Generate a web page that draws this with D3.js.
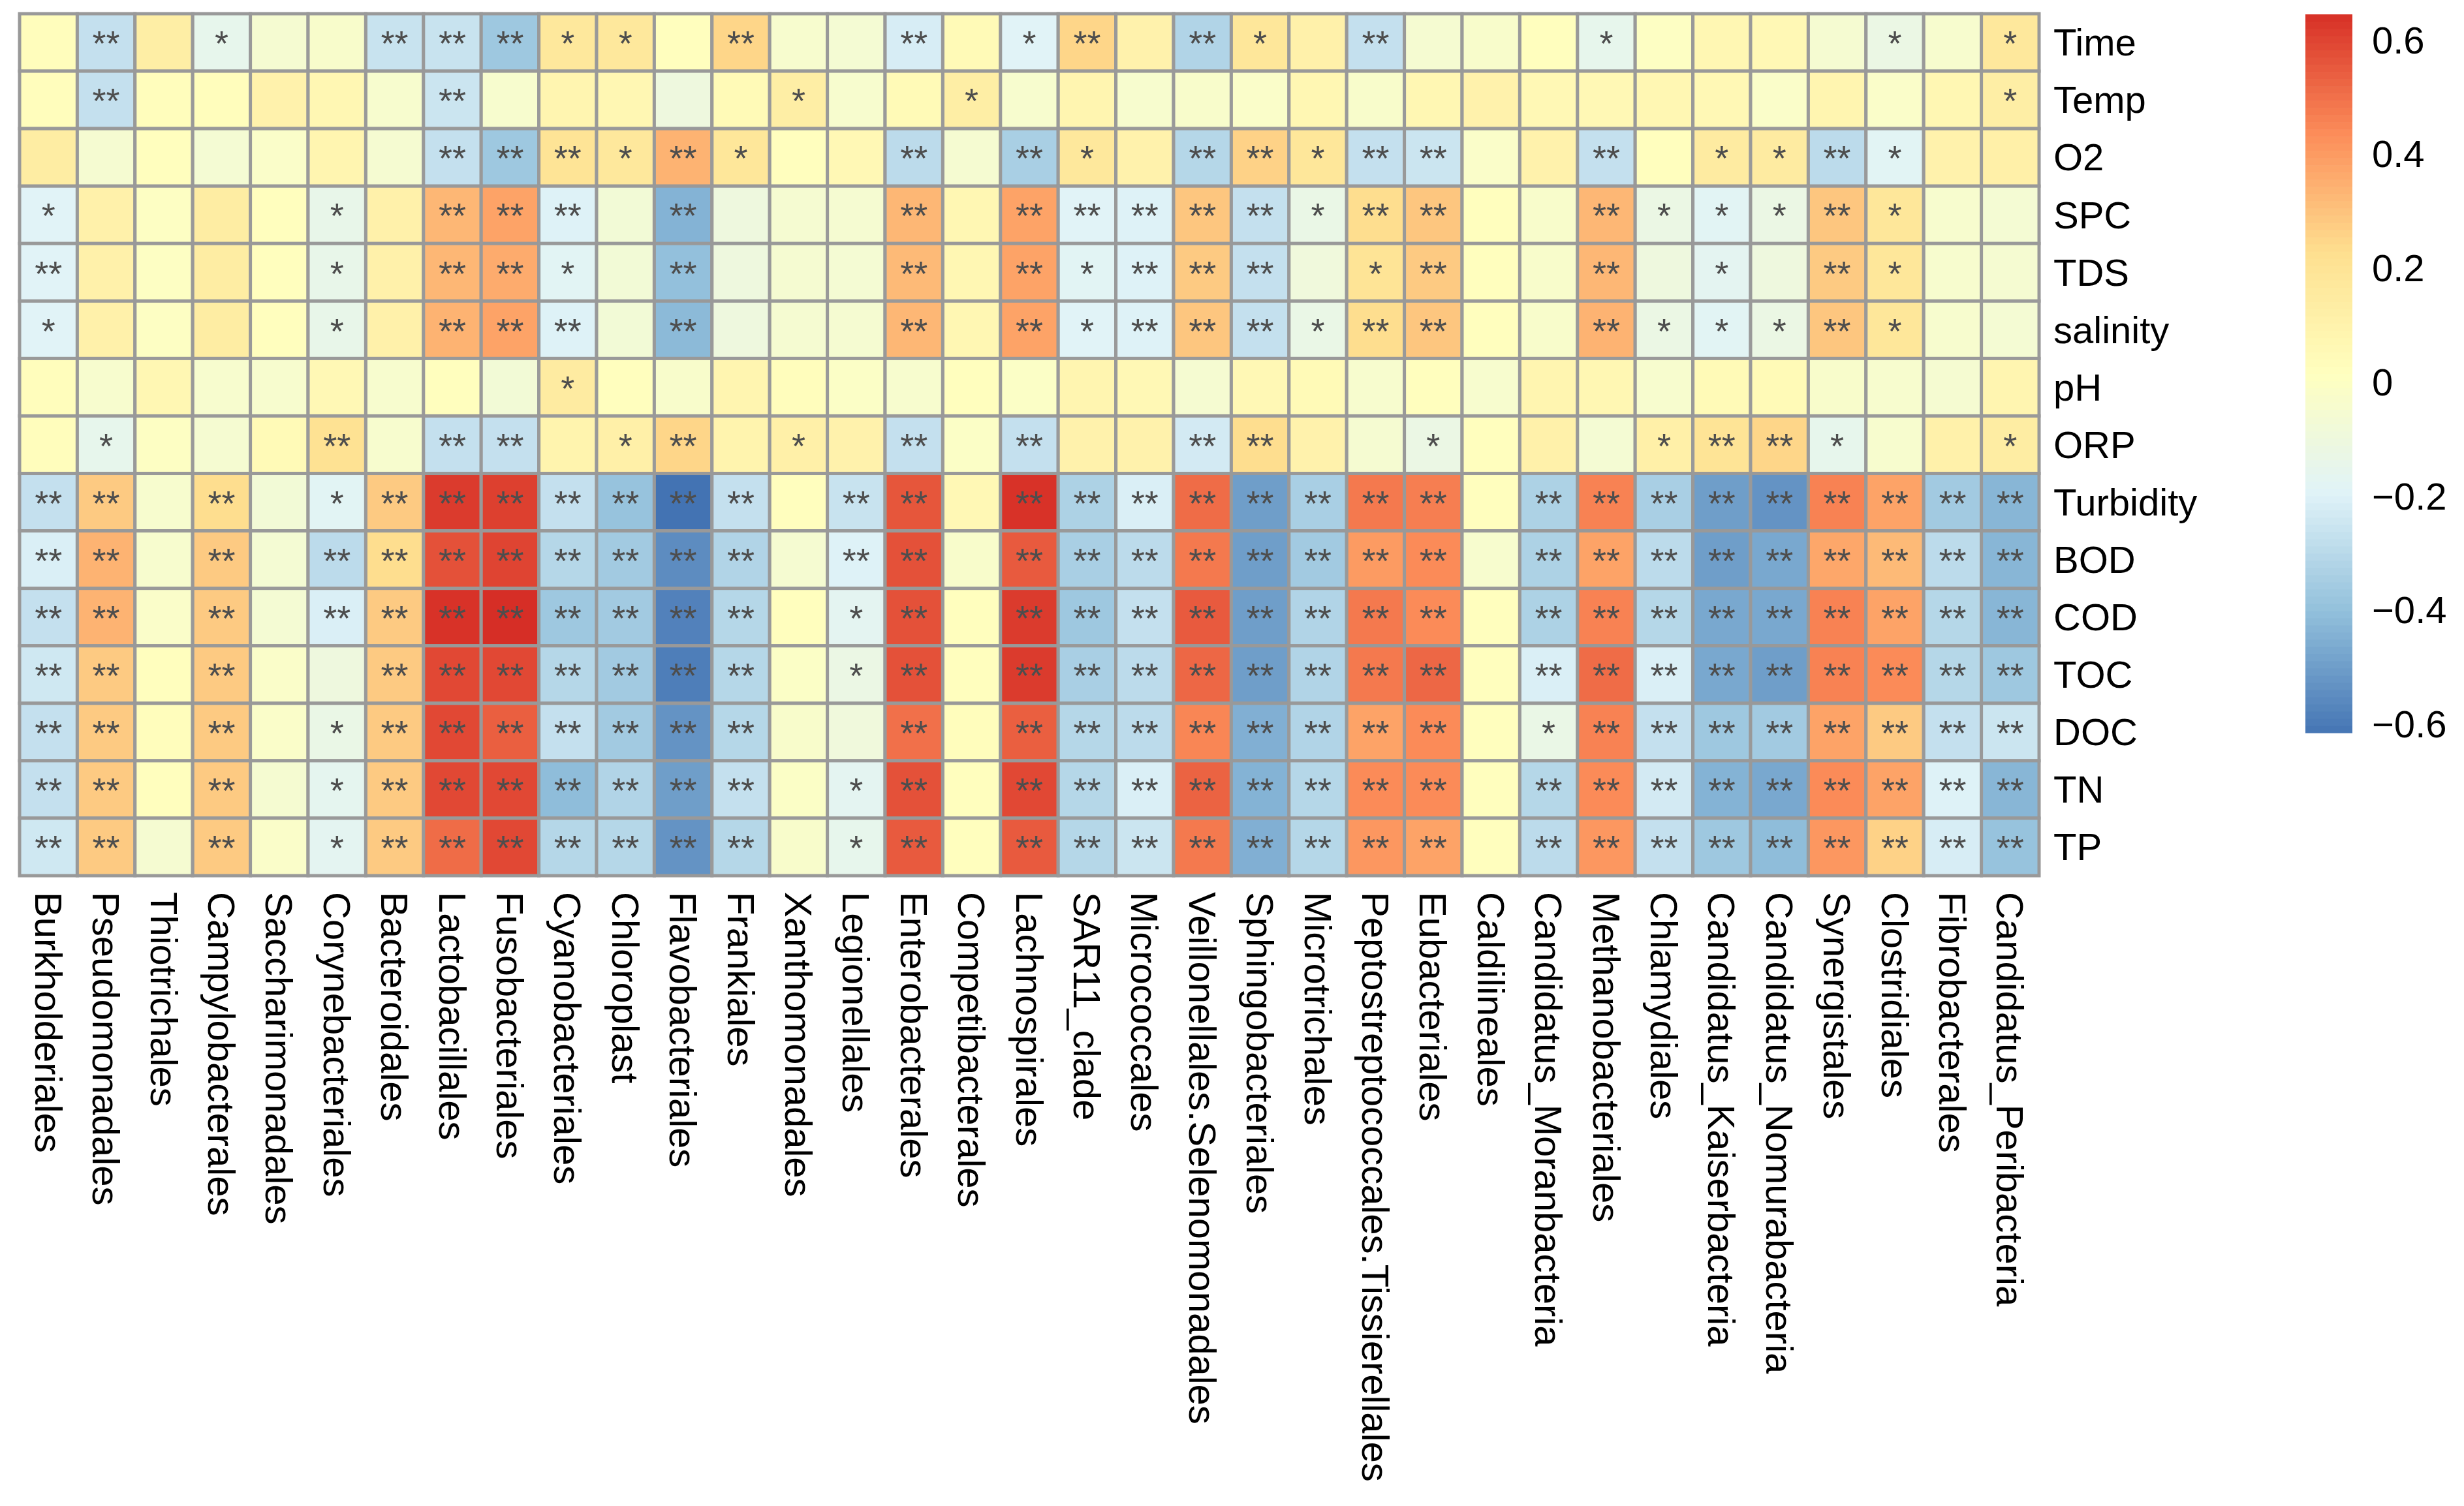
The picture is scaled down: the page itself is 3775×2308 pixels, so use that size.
<!DOCTYPE html>
<html>
<head>
<meta charset="utf-8">
<script src="https://cdn.jsdelivr.net/npm/d3@7"></script>
<style>
body { margin: 0; background: #fff; }
text { font-family: "Liberation Sans", Arial, Helvetica, sans-serif; }
</style>
</head>
<body>
<div class="chart"></div>
<script>
var orders = ["Burkholderiales", "Pseudomonadales", "Thiotrichales", "Campylobacterales", "Saccharimonadales",
	"Corynebacteriales", "Bacteroidales", "Lactobacillales", "Fusobacteriales", "Cyanobacteriales", "Chloroplast",
	"Flavobacteriales", "Frankiales", "Xanthomonadales", "Legionellales", "Enterobacterales", "Competibacterales",
	"Lachnospirales", "SAR11_clade", "Micrococcales", "Veillonellales.Selenomonadales", "Sphingobacteriales",
	"Microtrichales", "Peptostreptococcales.Tissierellales", "Eubacteriales", "Caldilineales",
	"Candidatus_Moranbacteria", "Methanobacteriales", "Chlamydiales", "Candidatus_Kaiserbacteria",
	"Candidatus_Nomurabacteria", "Synergistales", "Clostridiales", "Fibrobacterales", "Candidatus_Peribacteria"];

var params = ["Time", "Temp", "O2", "SPC", "TDS", "salinity", "pH", "ORP", "Turbidity", "BOD", "COD", "TOC", "DOC", "TN", "TP"];

// correlation of each parameter with each order (columns in the order above)
var corTime = [0.03,-0.27,0.13,-0.15,-0.05,-0.03,-0.26,-0.26,-0.37, 0.17,0.17,0.02,0.25,-0.04,-0.06,-0.22,0.05,-0.19, 0.25,0.10,-0.32,0.18,0.11,-0.27,-0.05,-0.03,0.02, -0.15,0.00,0.07,0.06,-0.05,-0.12,-0.04,0.17];
var corTemp = [0.03,-0.27,0.03,0.03,0.10,0.07,-0.04,-0.25,-0.04, 0.08,0.07,-0.10,0.05,0.13,-0.04,0.05,0.13,-0.04, 0.08,-0.04,-0.03,-0.02,0.07,-0.03,0.07,0.10,0.06, 0.06,0.07,0.06,-0.02,0.08,-0.02,0.07,0.13];
var corO2 = [0.14,-0.05,0.02,-0.06,-0.02,0.08,-0.05,-0.27,-0.37, 0.20,0.17,0.34,0.18,0.02,0.06,-0.29,-0.05,-0.34, 0.17,0.10,-0.31,0.26,0.18,-0.27,-0.25,-0.02,0.10, -0.27,0.02,0.15,0.15,-0.29,-0.18,0.10,0.12];
var corSPC = [-0.19,0.11,0.00,0.14,0.02,-0.14,0.11,0.33,0.38, -0.20,-0.07,-0.44,-0.10,-0.05,-0.05,0.33,0.07,0.38, -0.19,-0.20,0.29,-0.27,-0.13,0.23,0.29,0.02,-0.03, 0.33,-0.12,-0.18,-0.12,0.29,0.18,-0.04,-0.06];
var corTDS = [-0.19,0.11,0.00,0.14,0.02,-0.14,0.11,0.33,0.36, -0.18,-0.07,-0.40,-0.10,-0.05,-0.06,0.32,0.07,0.38, -0.18,-0.20,0.28,-0.27,-0.09,0.20,0.28,0.02,-0.03, 0.33,-0.10,-0.17,-0.10,0.28,0.18,-0.04,-0.05];
var corSalinity = [-0.19,0.11,0.00,0.14,0.02,-0.14,0.11,0.34,0.38, -0.20,-0.07,-0.42,-0.10,-0.05,-0.05,0.33,0.07,0.38, -0.19,-0.20,0.29,-0.27,-0.13,0.23,0.29,0.02,-0.03, 0.34,-0.12,-0.18,-0.12,0.29,0.18,-0.04,-0.06];
var corPH = [0.03,-0.04,0.07,-0.04,-0.04,0.06,-0.04,0.02,-0.07, 0.15,0.02,-0.03,0.08,0.03,-0.01,-0.04,0.02,-0.01, 0.08,0.06,-0.05,0.06,0.05,-0.04,0.02,-0.04,0.08, 0.07,-0.04,0.05,0.05,-0.03,-0.04,-0.05,0.08];
var corORP = [0.03,-0.15,0.00,-0.05,0.05,0.21,-0.04,-0.27,-0.27, 0.09,0.12,0.25,0.09,0.12,0.10,-0.27,-0.01,-0.27, 0.10,0.10,-0.23,0.23,0.10,-0.05,-0.12,0.02,0.11, -0.06,0.12,0.20,0.25,-0.15,-0.04,0.11,0.14];
var corTurbidity = [-0.27,0.28,-0.04,0.23,-0.07,-0.18,0.28,0.62,0.61, -0.27,-0.39,-0.62,-0.27,0.02,-0.26,0.56,0.06,0.64, -0.33,-0.21,0.51,-0.50,-0.34,0.48,0.47,0.02,-0.33, 0.46,-0.34,-0.50,-0.53,0.46,0.38,-0.36,-0.43];
var corBOD = [-0.21,0.34,-0.04,0.28,-0.06,-0.29,0.23,0.57,0.60, -0.31,-0.36,-0.55,-0.32,-0.05,-0.20,0.57,-0.03,0.55, -0.34,-0.29,0.48,-0.50,-0.36,0.40,0.44,-0.04,-0.33, 0.38,-0.29,-0.50,-0.47,0.37,0.32,-0.29,-0.43];
var corCOD = [-0.27,0.34,-0.02,0.28,-0.06,-0.21,0.28,0.64,0.65, -0.37,-0.36,-0.58,-0.31,0.02,-0.17,0.57,0.02,0.62, -0.37,-0.27,0.55,-0.50,-0.32,0.48,0.44,0.02,-0.33, 0.46,-0.31,-0.47,-0.47,0.46,0.38,-0.31,-0.43];
var corTOC = [-0.24,0.28,0.02,0.28,-0.02,-0.10,0.28,0.59,0.59, -0.31,-0.36,-0.59,-0.31,-0.01,-0.12,0.57,0.02,0.62, -0.34,-0.29,0.52,-0.50,-0.32,0.48,0.52,0.02,-0.21, 0.51,-0.21,-0.47,-0.50,0.46,0.44,-0.31,-0.37];
var corDOC = [-0.27,0.28,0.03,0.28,-0.02,-0.13,0.28,0.59,0.54, -0.27,-0.36,-0.53,-0.31,-0.03,-0.09,0.50,0.03,0.54, -0.31,-0.29,0.45,-0.45,-0.32,0.38,0.44,0.02,-0.13, 0.46,-0.27,-0.37,-0.36,0.38,0.28,-0.27,-0.25];
var corTN = [-0.27,0.28,0.02,0.28,-0.05,-0.16,0.28,0.59,0.59, -0.41,-0.32,-0.50,-0.27,-0.01,-0.17,0.57,0.02,0.59, -0.31,-0.21,0.53,-0.44,-0.31,0.44,0.44,0.02,-0.31, 0.44,-0.23,-0.44,-0.47,0.44,0.38,-0.20,-0.43];
var corTP = [-0.24,0.28,-0.05,0.28,-0.02,-0.17,0.28,0.51,0.59, -0.31,-0.31,-0.53,-0.31,-0.03,-0.15,0.55,0.02,0.55, -0.31,-0.25,0.48,-0.45,-0.31,0.41,0.38,0.02,-0.29, 0.41,-0.27,-0.37,-0.41,0.41,0.26,-0.22,-0.39];

// significance: 0 none, 1 = *, 2 = **
var sigTime = [0,2,0,1,0,0,2,2,2, 1,1,0,2,0,0,2,0,1, 2,0,2,1,0,2,0,0,0, 1,0,0,0,0,1,0,1];
var sigTemp = [0,2,0,0,0,0,0,2,0, 0,0,0,0,1,0,0,1,0, 0,0,0,0,0,0,0,0,0, 0,0,0,0,0,0,0,1];
var sigO2 = [0,0,0,0,0,0,0,2,2, 2,1,2,1,0,0,2,0,2, 1,0,2,2,1,2,2,0,0, 2,0,1,1,2,1,0,0];
var sigSPC = [1,0,0,0,0,1,0,2,2, 2,0,2,0,0,0,2,0,2, 2,2,2,2,1,2,2,0,0, 2,1,1,1,2,1,0,0];
var sigTDS = [2,0,0,0,0,1,0,2,2, 1,0,2,0,0,0,2,0,2, 1,2,2,2,0,1,2,0,0, 2,0,1,0,2,1,0,0];
var sigSalinity = [1,0,0,0,0,1,0,2,2, 2,0,2,0,0,0,2,0,2, 1,2,2,2,1,2,2,0,0, 2,1,1,1,2,1,0,0];
var sigPH = [0,0,0,0,0,0,0,0,0, 1,0,0,0,0,0,0,0,0, 0,0,0,0,0,0,0,0,0, 0,0,0,0,0,0,0,0];
var sigORP = [0,1,0,0,0,2,0,2,2, 0,1,2,0,1,0,2,0,2, 0,0,2,2,0,0,1,0,0, 0,1,2,2,1,0,0,1];
var sigTurbidity = [2,2,0,2,0,1,2,2,2, 2,2,2,2,0,2,2,0,2, 2,2,2,2,2,2,2,0,2, 2,2,2,2,2,2,2,2];
var sigBOD = [2,2,0,2,0,2,2,2,2, 2,2,2,2,0,2,2,0,2, 2,2,2,2,2,2,2,0,2, 2,2,2,2,2,2,2,2];
var sigCOD = [2,2,0,2,0,2,2,2,2, 2,2,2,2,0,1,2,0,2, 2,2,2,2,2,2,2,0,2, 2,2,2,2,2,2,2,2];
var sigTOC = [2,2,0,2,0,0,2,2,2, 2,2,2,2,0,1,2,0,2, 2,2,2,2,2,2,2,0,2, 2,2,2,2,2,2,2,2];
var sigDOC = [2,2,0,2,0,1,2,2,2, 2,2,2,2,0,0,2,0,2, 2,2,2,2,2,2,2,0,1, 2,2,2,2,2,2,2,2];
var sigTN = [2,2,0,2,0,1,2,2,2, 2,2,2,2,0,1,2,0,2, 2,2,2,2,2,2,2,0,2, 2,2,2,2,2,2,2,2];
var sigTP = [2,2,0,2,0,1,2,2,2, 2,2,2,2,0,1,2,0,2, 2,2,2,2,2,2,2,0,2, 2,2,2,2,2,2,2,2];

var legendTicks = [-0.6, -0.4, -0.2, 0, 0.2, 0.4, 0.6];
var palette = ["#4575B4", "#91BFDB", "#E0F3F8", "#FFFFBF", "#FEE090", "#FC8D59", "#D73027"];
var lo = -0.615, hi = 0.645;

var corr = [corTime, corTemp, corO2, corSPC, corTDS, corSalinity, corPH, corORP,
	corTurbidity, corBOD, corCOD, corTOC, corDOC, corTN, corTP];
var sig = [sigTime, sigTemp, sigO2, sigSPC, sigTDS, sigSalinity, sigPH, sigORP,
	sigTurbidity, sigBOD, sigCOD, sigTOC, sigDOC, sigTN, sigTP];
var stars = ["", "*", "**"];

var svg = d3.select(".chart").append("svg")
	.attr("width", 3775)
	.attr("height", 2308);

var x = d3.scaleBand().domain(orders).range([30, 3124]);
var y = d3.scaleBand().domain(params).range([21, 1342]);
var color = d3.scaleLinear()
	.domain(d3.range(7).map(function(i) { return lo + i * (hi - lo) / 6; }))
	.range(palette);

var cells = [];
params.forEach(function(p, i) {
	orders.forEach(function(o, j) {
		cells.push({ row: p, col: o, v: corr[i][j], s: sig[i][j] });
	});
});

svg.append("g").selectAll("rect")
	.data(cells)
	.enter()
	.append("rect")
	.attr("x", function(d) { return x(d.col); })
	.attr("y", function(d) { return y(d.row); })
	.attr("width", x.bandwidth())
	.attr("height", y.bandwidth())
	.attr("fill", function(d) { return color(d.v); })
	.attr("stroke", "#999")
	.attr("stroke-width", 5);

// significance stars
svg.append("g").selectAll("text")
	.data(cells.filter(function(d) { return d.s > 0; }))
	.enter()
	.append("text")
	.attr("x", function(d) { return x(d.col) + x.bandwidth() / 2; })
	.attr("y", function(d) { return y(d.row) + y.bandwidth() * 0.73; })
	.attr("text-anchor", "middle")
	.attr("font-size", 54)
	.attr("fill", "#4d4d4d")
	.text(function(d) { return stars[d.s]; });

// row labels
svg.append("g").selectAll("text")
	.data(params)
	.enter()
	.append("text")
	.attr("x", 3146)
	.attr("y", function(d) { return y(d) + y.bandwidth() / 2; })
	.attr("dy", "0.35em")
	.attr("font-size", 58)
	.text(function(d) { return d; });

// column labels
svg.append("g").selectAll("text")
	.data(orders)
	.enter()
	.append("text")
	.attr("transform", function(d) {
		return "translate(" + (x(d) + x.bandwidth() / 2) + ",1367) rotate(90)";
	})
	.attr("dy", "0.35em")
	.attr("font-size", 58)
	.text(function(d) { return d; });

// colour legend
var yL = d3.scaleLinear().domain([lo, hi]).range([1123, 22]);
var step = (hi - lo) / 100;
svg.append("g").selectAll("rect")
	.data(d3.range(100))
	.enter()
	.append("rect")
	.attr("x", 3532)
	.attr("width", 72)
	.attr("y", function(i) { return yL(lo + (i + 1) * step); })
	.attr("height", function(i) { return yL(lo + i * step) - yL(lo + (i + 1) * step) + 0.6; })
	.attr("fill", function(i) { return color(lo + (i + 0.5) * step); });

svg.append("g").selectAll("text")
	.data(legendTicks)
	.enter()
	.append("text")
	.attr("x", 3634)
	.attr("y", function(d) { return yL(d); })
	.attr("dy", "0.35em")
	.attr("font-size", 58)
	.text(function(d) { return d < 0 ? "\u2212" + Math.abs(d) : d; });
</script>
</body>
</html>
